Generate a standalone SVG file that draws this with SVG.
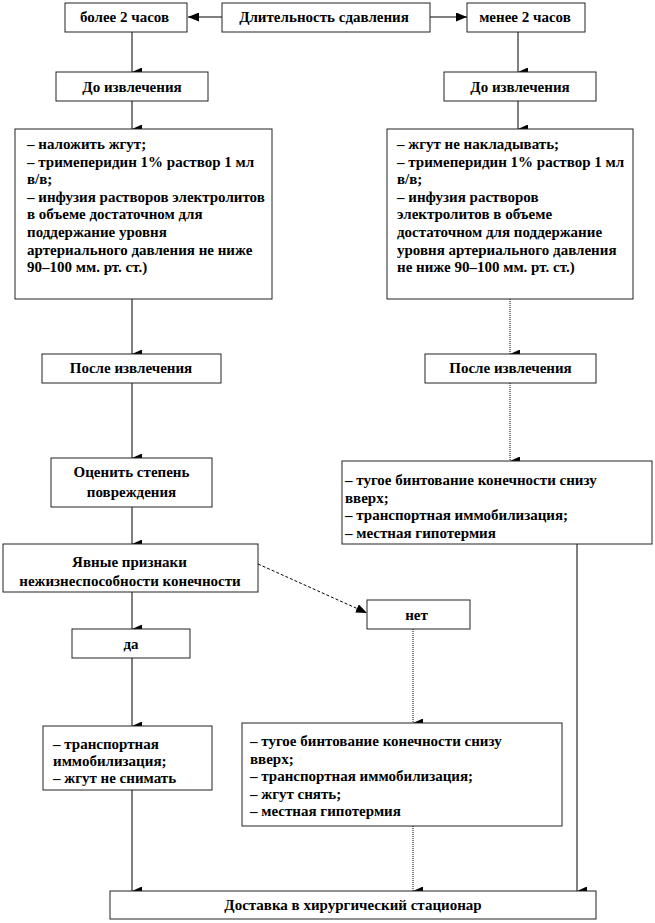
<svg xmlns="http://www.w3.org/2000/svg" width="655" height="923" viewBox="0 0 655 923">
<defs>
<marker id="ah" markerWidth="9" markerHeight="11" refX="4.5" refY="11" orient="auto-start-reverse" markerUnits="userSpaceOnUse" viewBox="0 0 9 11">
<path d="M0,1 L9,1 L4.5,11 Z" fill="#000"/>
</marker>
<marker id="ar" markerWidth="11" markerHeight="9" refX="11" refY="4.5" orient="auto" markerUnits="userSpaceOnUse" viewBox="0 0 11 9">
<path d="M0,0 L11,4.5 L0,9 Z" fill="#000"/>
</marker>
</defs>
<style>
rect{fill:#fff;stroke:#222;stroke-width:1}
text{font-family:'Liberation Serif','Times New Roman',serif;font-weight:bold;font-size:15px;fill:#000}
.c{text-anchor:middle}
.s{stroke:#000;stroke-width:1;fill:none}
.d{stroke:#000;stroke-width:1;fill:none;stroke-dasharray:1 1}
.dd{stroke:#000;stroke-width:1;fill:none;stroke-dasharray:3 2}
</style>
<rect x="0" y="0" width="655" height="923" style="fill:#fff;stroke:none"/>
<g id="connectors">
<line class="s" x1="222" y1="17" x2="188" y2="17" marker-end="url(#ar)"/>
<line class="s" x1="430" y1="17" x2="467" y2="17" marker-end="url(#ar)"/>
<line class="s" x1="132" y1="32" x2="132" y2="72" marker-end="url(#ah)"/>
<line class="s" x1="518" y1="32" x2="518" y2="72" marker-end="url(#ah)"/>
<line class="s" x1="132" y1="101" x2="132" y2="129" marker-end="url(#ah)"/>
<line class="s" x1="518" y1="101" x2="518" y2="129" marker-end="url(#ah)"/>
<line class="s" x1="132" y1="299" x2="132" y2="354" marker-end="url(#ah)"/>
<line class="d" x1="510" y1="299" x2="510" y2="354" marker-end="url(#ah)"/>
<line class="s" x1="132" y1="383" x2="132" y2="458" marker-end="url(#ah)"/>
<line class="d" x1="510" y1="383" x2="510" y2="461" marker-end="url(#ah)"/>
<line class="s" x1="132" y1="507" x2="132" y2="544" marker-end="url(#ah)"/>
<line class="s" x1="132" y1="592" x2="132" y2="629" marker-end="url(#ah)"/>
<line class="dd" x1="258" y1="564" x2="367" y2="613" marker-end="url(#ar)"/>
<line class="s" x1="132" y1="658" x2="132" y2="726" marker-end="url(#ah)"/>
<line class="d" x1="413" y1="629" x2="413" y2="723" marker-end="url(#ah)"/>
<line class="s" x1="132" y1="790" x2="132" y2="891" marker-end="url(#ah)"/>
<line class="d" x1="413" y1="826" x2="413" y2="891" marker-end="url(#ah)"/>
<line class="s" x1="577" y1="544" x2="577" y2="891" marker-end="url(#ah)"/>
</g>
<g id="n_more2">
<rect x="65" y="3" width="122" height="29"/>
<text class="c" x="124.5" y="22">более 2 часов</text>
</g>
<g id="n_duration">
<rect x="222" y="3" width="208" height="29"/>
<text class="c" x="324" y="22">Длительность сдавления</text>
</g>
<g id="n_less2">
<rect x="467" y="3" width="118" height="29"/>
<text class="c" x="525" y="22">менее 2 часов</text>
</g>
<g id="n_before_l">
<rect x="56" y="72" width="152" height="29"/>
<text class="c" x="132" y="92">До извлечения</text>
</g>
<g id="n_before_r">
<rect x="444" y="72" width="152" height="29"/>
<text class="c" x="520" y="92">До извлечения</text>
</g>
<g id="n_actions_l">
<rect x="15" y="129" width="257" height="170"/>
<text x="27" y="149">– наложить жгут;</text>
<text x="27" y="166.6">– тримеперидин 1% раствор 1 мл</text>
<text x="27" y="184.2">в/в;</text>
<text x="27" y="201.8">– инфузия  растворов электролитов</text>
<text x="27" y="219.4">в  объеме достаточном для</text>
<text x="27" y="237">поддержание уровня</text>
<text x="27" y="254.6">артериального давления не ниже</text>
<text x="27" y="272.2">90–100 мм. рт. ст.)</text>
</g>
<g id="n_actions_r">
<rect x="387" y="129" width="246" height="170"/>
<text x="397" y="149">– жгут  не накладывать;</text>
<text x="397" y="166.6">– тримеперидин 1% раствор 1 мл</text>
<text x="397" y="184.2">в/в;</text>
<text x="397" y="201.8">– инфузия  растворов</text>
<text x="397" y="219.4">электролитов в объеме</text>
<text x="397" y="237">достаточном для поддержание</text>
<text x="397" y="254.6">уровня  артериального давления</text>
<text x="397" y="272.2">не ниже 90–100 мм. рт. ст.)</text>
</g>
<g id="n_after_l">
<rect x="42" y="354" width="179" height="29"/>
<text class="c" x="131" y="373">После извлечения</text>
</g>
<g id="n_after_r">
<rect x="425" y="354" width="171" height="29"/>
<text class="c" x="510.5" y="373">После извлечения</text>
</g>
<g id="n_assess">
<rect x="51" y="458" width="161" height="49"/>
<text class="c" x="131.5" y="477">Оценить степень</text>
<text class="c" x="131.5" y="497">повреждения</text>
</g>
<g id="n_bandage_r">
<rect x="342" y="461" width="310" height="83"/>
<text x="345" y="485">– тугое  бинтование конечности снизу</text>
<text x="345" y="502.5">вверх;</text>
<text x="345" y="520">– транспортная иммобилизация;</text>
<text x="345" y="537.5">– местная гипотермия</text>
</g>
<g id="n_signs">
<rect x="3" y="544" width="255" height="48"/>
<text class="c" x="129.5" y="567">Явные признаки</text>
<text class="c" x="130" y="586">нежизнеспособности конечности</text>
</g>
<g id="n_yes">
<rect x="72" y="629" width="118" height="29"/>
<text class="c" x="131" y="649">да</text>
</g>
<g id="n_no">
<rect x="367" y="600" width="103" height="29"/>
<text class="c" x="416.5" y="620">нет</text>
</g>
<g id="n_yes_actions">
<rect x="43" y="726" width="169" height="64"/>
<text x="53" y="749">– транспортная</text>
<text x="53" y="766">иммобилизация;</text>
<text x="53" y="783">– жгут  не снимать</text>
</g>
<g id="n_no_actions">
<rect x="242" y="723" width="320" height="103"/>
<text x="250" y="746">– тугое  бинтование конечности снизу</text>
<text x="250" y="763.5">вверх;</text>
<text x="250" y="781">– транспортная иммобилизация;</text>
<text x="250" y="798.5">– жгут  снять;</text>
<text x="250" y="816">– местная гипотермия</text>
</g>
<g id="n_delivery">
<rect x="110" y="891" width="486" height="28"/>
<text class="c" x="353" y="910">Доставка в  хирургический стационар</text>
</g>
</svg>
